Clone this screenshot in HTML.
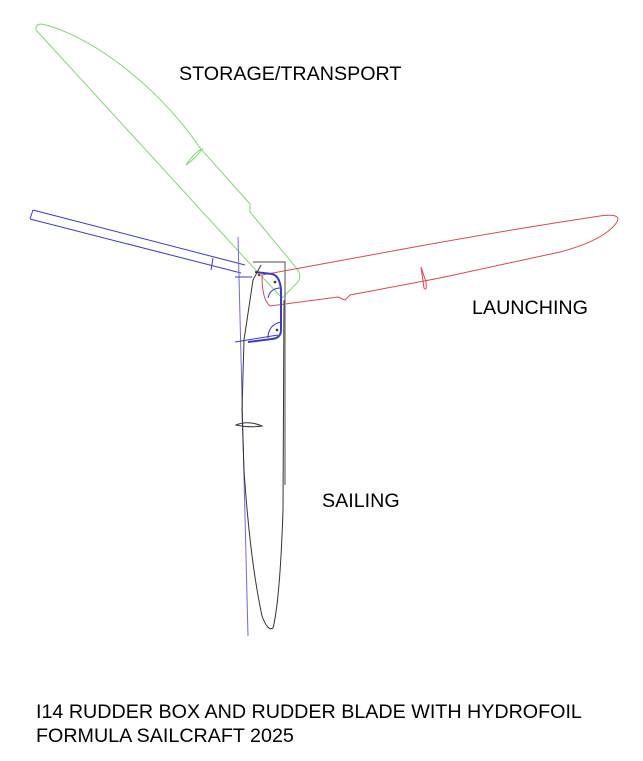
<!DOCTYPE html>
<html><head><meta charset="utf-8"><style>
html,body{margin:0;padding:0;background:#fff;}
svg{display:block}
text{font-family:"Liberation Sans",sans-serif;font-size:19.7px;fill:#000}
</style></head><body>
<svg width="643" height="761" viewBox="0 0 643 761" xmlns="http://www.w3.org/2000/svg">
<g fill="none" stroke-width="1">
<!-- green storage blade -->
<g stroke="#7ddc6e">
<path d="M36,30 Q35,22 46,25 C100,40 165,95 200,148 L250,204 L250,212 L298,270 Q302,278 297,283 L282,298 L252,266 L36,30 Z"/>
<path d="M186,165 Q195,152 202,149 Q196,158 186,165 Z"/>
</g>
<!-- red launching blade -->
<g stroke="#d9494e">
<path d="M262,275 L420,246 Q520,228 600,216 Q622,213 617,222 Q605,240 560,252 L440,278 L350,295 L345,300 L338,297 L270,306 Q262,300 262,275 Z"/>
<path d="M421,267 L424,288 Q427,292 426,282 Z"/>
</g>
<!-- blue tiller -->
<g stroke="#3a3acc">
<path d="M33,210 L245,265 M30,219 L241,273 M33,210 L30,219"/>
<path d="M213,258 L211,270"/>
<path d="M238,237 L248,636" stroke="#6b6bdd"/>
<path d="M235,277 L252,277 M235,342 L278,335" />
<path d="M255,272 L272,274 Q280,276 281,290 L281,330 Q281,338 272,339 L248,342" stroke-width="2"/>
<path d="M268,298 Q270,288 281,288 M268,338 Q268,325 281,322"/>
</g>
<!-- black sailing blade and box -->
<g stroke="#555">
<path d="M253,262 L285,262 L285,485" stroke="#888" stroke-width="1.5"/>
<path d="M261,265 L253,280 L244,340 L242,410 L244,470 Q250,560 262,616 Q268,632 273,628 Q280,600 283,510 L284,300" stroke="#333"/>
<path d="M236,425 Q248,420 262,426 Q250,428 236,425 Z" stroke="#333"/>
</g>
<circle cx="275" cy="282" r="1.3" fill="#333"/>
<circle cx="277" cy="330" r="1.3" fill="#333"/>
<circle cx="259" cy="275" r="1.3" fill="#a33"/>
</g>
<text x="179" y="80">STORAGE/TRANSPORT</text>
<text x="472" y="314">LAUNCHING</text>
<text x="322" y="507">SAILING</text>
<text x="36" y="718">I14 RUDDER BOX AND RUDDER BLADE WITH HYDROFOIL</text>
<text x="36" y="742">FORMULA SAILCRAFT 2025</text>
</svg>
</body></html>
